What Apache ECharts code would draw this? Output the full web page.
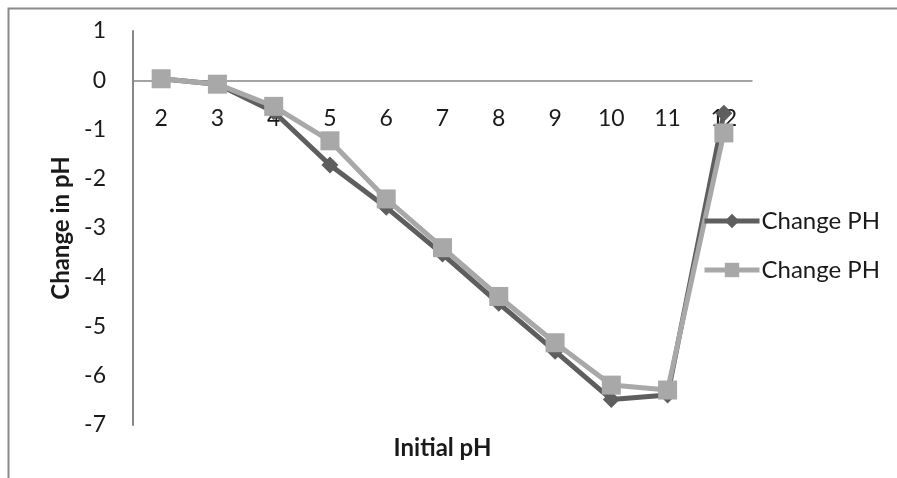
<!DOCTYPE html>
<html>
<head>
<meta charset="utf-8">
<script src="https://cdn.jsdelivr.net/npm/echarts@6/dist/echarts.min.js"></script>
<style>
  html, body { margin: 0; padding: 0; background: #ffffff; }
  #chart { width: 897px; height: 478px; }
</style>
</head>
<body>
<div id="chart"></div>
<script>
// Initial pH values (x categories)
const initialPH = ['2', '3', '4', '5', '6', '7', '8', '9', '10', '11', '12'];
// Change in pH, first measurement run
const changeRunA = [0.03, -0.08, -0.64, -1.72, -2.58, -3.53, -4.53, -5.5, -6.48, -6.39, -0.67];
// Change in pH, second measurement run
const changeRunB = [0.03, -0.08, -0.53, -1.23, -2.41, -3.4, -4.39, -5.33, -6.19, -6.29, -1.07];
const seriesNames = ['Change PH', 'Change PH'];
const yMin = -7, yMax = 1;

const FONT = 'Lato';
const GRID_TOP = 31, GRID_BOTTOM = 53, CHART_H = 478;
const plotH = CHART_H - GRID_TOP - GRID_BOTTOM;
// distance from the bottom of the plot up to the y = 0 line
const zeroLift = plotH * (0 - yMin) / (yMax - yMin);

const chart = echarts.init(document.getElementById('chart'), null, { renderer: 'canvas' });

chart.setOption({
  animation: false,
  backgroundColor: '#ffffff',
  textStyle: { fontFamily: FONT },
  graphic: [{
    type: 'rect',
    shape: { x: 8.5, y: 8.5, width: 1000, height: 1000 },
    style: { fill: 'none', stroke: '#8a8a8a', lineWidth: 2 },
    silent: true
  }],
  grid: { left: 133, right: 145, top: GRID_TOP, bottom: GRID_BOTTOM, containLabel: false, outerBoundsMode: 'none' },
  legend: {
    orient: 'vertical',
    left: 697,
    top: 204,
    itemWidth: 55,
    itemHeight: 18,
    itemGap: 25,
    lineStyle: { width: 5 },
    textStyle: { fontFamily: FONT, fontSize: 24, color: '#1a1a1a', padding: [0, 0, 0, -3] },
    data: ['A', 'B'],
    formatter: function (n) { return n === 'A' ? seriesNames[0] : seriesNames[1]; }
  },
  xAxis: {
    type: 'category',
    data: initialPH,
    boundaryGap: true,
    position: 'bottom',
    offset: -zeroLift,
    name: 'Initial pH',
    nameLocation: 'middle',
    nameGap: zeroLift + 11,
    nameTextStyle: { fontFamily: FONT, fontSize: 24, fontWeight: 'bold', color: '#1a1a1a' },
    axisLine: { onZero: false, lineStyle: { color: '#878787', width: 1.5 } },
    axisTick: { show: false },
    axisLabel: { fontFamily: FONT, fontSize: 23, color: '#1a1a1a', margin: 27 },
    splitLine: { show: false }
  },
  yAxis: {
    type: 'value',
    min: yMin,
    max: yMax,
    interval: 1,
    name: 'Change in pH',
    nameLocation: 'middle',
    nameGap: 59,
    nameRotate: 90,
    nameTextStyle: { fontFamily: FONT, fontSize: 24, fontWeight: 'bold', color: '#1a1a1a' },
    axisLine: { show: true, lineStyle: { color: '#878787', width: 2 } },
    axisTick: { show: false },
    axisLabel: { fontFamily: FONT, fontSize: 23, color: '#1a1a1a', margin: 27 },
    splitLine: { show: false }
  },
  series: [
    {
      name: 'A',
      type: 'line',
      data: changeRunA,
      symbol: 'diamond',
      symbolSize: 17,
      lineStyle: { color: '#5e5e5e', width: 5 },
      itemStyle: { color: '#5e5e5e' },
      z: 2
    },
    {
      name: 'B',
      type: 'line',
      data: changeRunB,
      symbol: 'rect',
      symbolSize: 19,
      lineStyle: { color: '#a8a8a8', width: 5 },
      itemStyle: { color: '#a8a8a8' },
      z: 3
    }
  ]
});
</script>
</body>
</html>
